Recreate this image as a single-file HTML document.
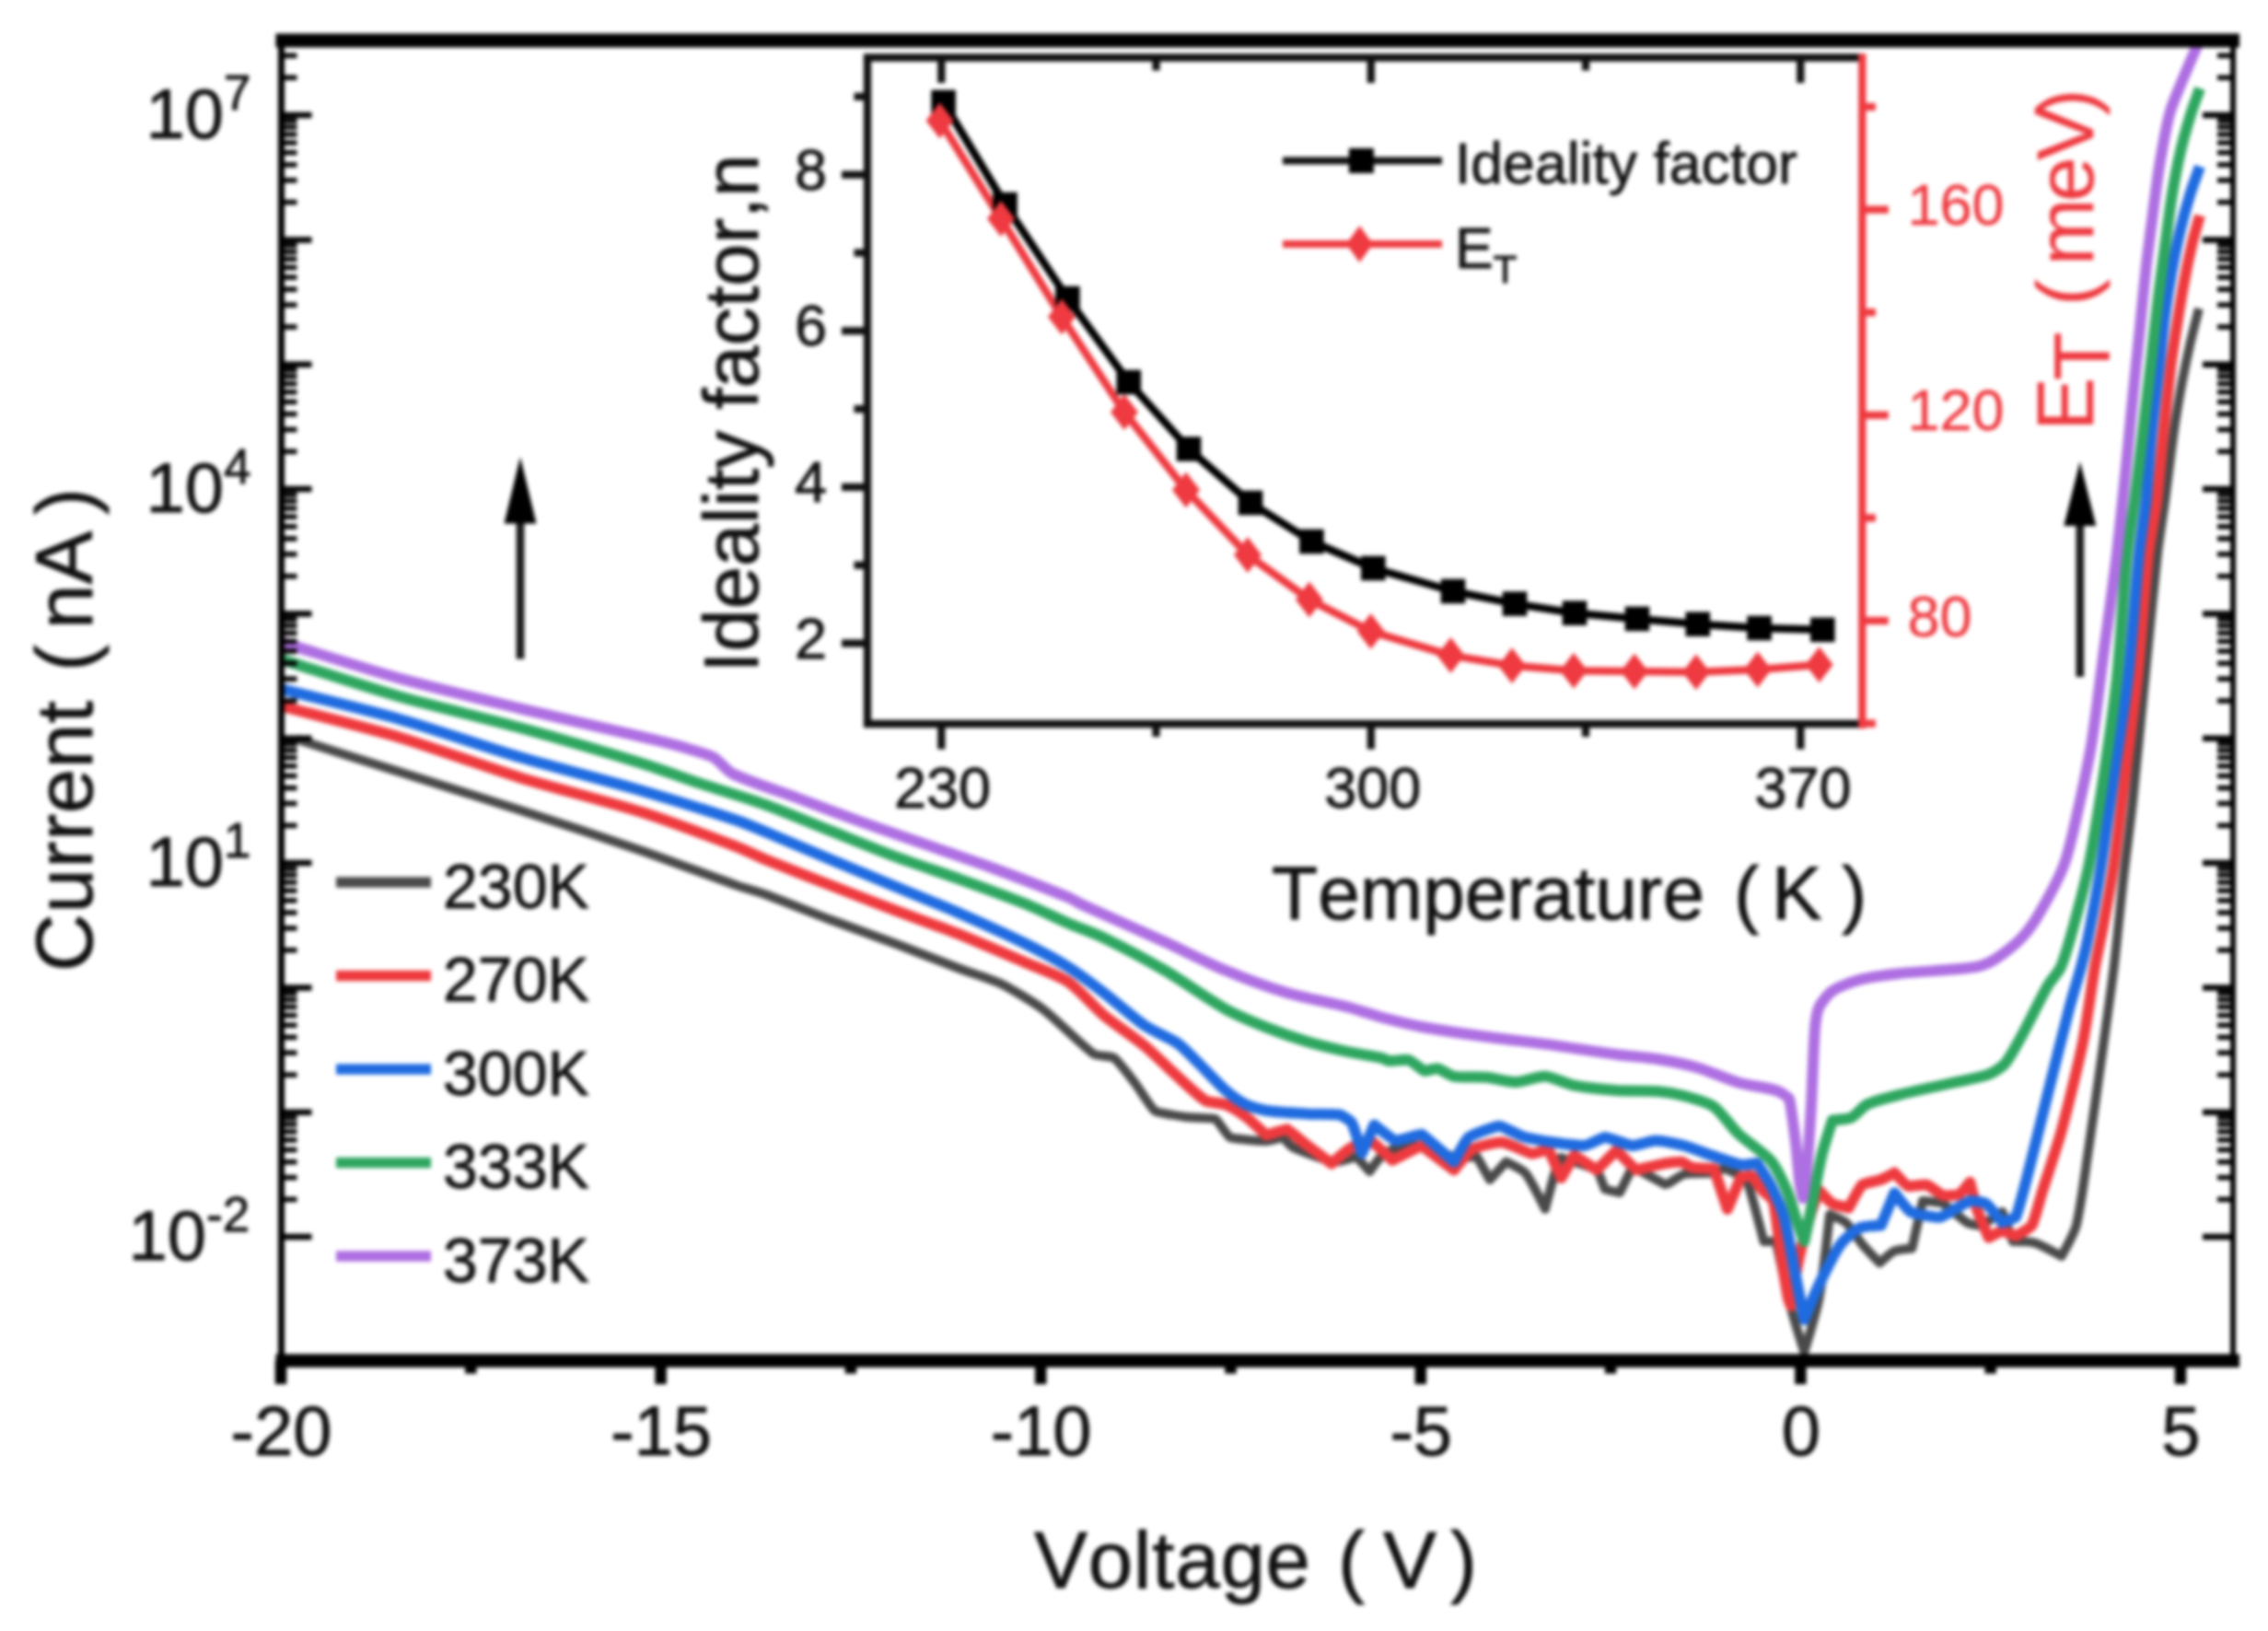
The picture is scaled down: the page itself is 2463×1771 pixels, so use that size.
<!DOCTYPE html>
<html lang="en"><head><meta charset="utf-8"><title>I-V characteristics</title>
<style>html,body{margin:0;padding:0;background:#fff}body{width:2463px;height:1771px;overflow:hidden}text{font-kerning:none;white-space:pre}</style>
</head><body>
<svg width="2463" height="1771" viewBox="0 0 2463 1771" style="display:block;filter:blur(2.2px)">
<rect x="-10" y="-10" width="2483" height="1791" fill="#fff"/>
<defs><clipPath id="cp"><rect x="305.5" y="38.0" width="2119.5" height="1445.5"/></clipPath></defs>
<g clip-path="url(#cp)" fill="none" stroke-linejoin="round" stroke-linecap="butt">
<path d="M322.0,802.5C347.8,810.7 406.7,829.6 432.5,837.8C463.4,847.6 534.2,869.7 565.0,879.7C596.0,889.8 666.6,913.2 697.4,923.9C721.5,932.3 776.0,952.9 800.0,961.4C807.1,963.9 823.6,968.4 830.6,971.0C847.2,977.1 884.7,992.2 901.3,998.5C917.7,1004.7 955.5,1018.3 971.9,1024.5C988.5,1030.8 1026.0,1045.7 1042.6,1052.0C1052.8,1055.9 1076.9,1063.2 1086.7,1068.0C1097.9,1073.5 1122.5,1088.2 1132.5,1095.7C1146.2,1106.0 1176.1,1136.4 1187.6,1144.3C1191.1,1146.7 1207.0,1146.8 1209.7,1148.7C1213.8,1151.5 1226.9,1168.7 1231.8,1175.0C1237.2,1182.0 1250.1,1203.4 1253.9,1206.0C1257.2,1208.3 1279.2,1211.6 1287.0,1212.7C1294.6,1213.7 1317.4,1213.8 1320.0,1215.0C1322.0,1215.9 1333.2,1233.8 1335.5,1234.8C1339.2,1236.4 1366.1,1239.0 1375.3,1239.0C1379.5,1239.0 1392.8,1234.7 1393.0,1234.8C1393.2,1234.8 1401.1,1244.4 1404.0,1245.8C1412.9,1250.1 1440.3,1260.4 1448.6,1261.6C1453.0,1262.3 1473.0,1256.0 1473.0,1256.0C1473.0,1256.0 1487.4,1272.0 1487.4,1272.0C1487.4,1272.0 1496.4,1259.0 1499.7,1256.0C1502.6,1253.4 1511.4,1248.0 1515.0,1247.0C1521.0,1245.4 1537.9,1243.1 1544.0,1244.0C1551.7,1245.1 1570.6,1254.3 1579.0,1256.0C1584.6,1257.1 1603.8,1256.0 1603.8,1256.0C1603.8,1256.0 1618.0,1281.0 1618.0,1281.0C1618.0,1281.0 1635.5,1261.6 1635.5,1261.6C1635.5,1261.6 1653.8,1270.5 1656.7,1274.0C1662.0,1280.3 1678.0,1312.7 1678.0,1312.7C1678.0,1312.7 1685.7,1282.9 1688.4,1274.0C1689.6,1269.9 1695.0,1257.0 1695.0,1257.0C1695.0,1257.0 1731.5,1268.4 1734.3,1270.4C1735.8,1271.5 1742.4,1290.9 1743.0,1291.5C1743.4,1291.9 1759.0,1295.0 1759.0,1295.0C1759.0,1295.0 1773.0,1266.8 1773.0,1266.8C1773.0,1266.8 1804.6,1284.2 1808.4,1286.0C1808.7,1286.2 1811.0,1285.4 1811.7,1285.0C1815.8,1282.8 1825.1,1276.0 1829.0,1275.0C1834.8,1273.6 1851.7,1274.4 1858.5,1273.5C1862.0,1273.0 1871.3,1268.7 1873.0,1269.0C1876.0,1269.6 1895.4,1278.7 1896.5,1280.8C1899.5,1286.4 1915.5,1348.0 1915.5,1348.0C1915.5,1348.0 1928.7,1348.0 1928.7,1348.0C1928.7,1348.0 1941.5,1406.4 1946.0,1424.0C1948.7,1434.4 1959.4,1468.0 1959.4,1468.0C1959.4,1468.0 1972.9,1423.4 1975.5,1409.5C1979.4,1388.5 1987.0,1318.8 1987.0,1318.8C1987.0,1318.8 2001.7,1324.9 2004.7,1327.6C2009.1,1331.6 2017.9,1345.8 2022.3,1351.0C2026.5,1356.0 2041.3,1371.4 2041.3,1371.4C2041.3,1371.4 2053.9,1359.9 2057.4,1358.3C2060.7,1356.8 2076.4,1355.4 2076.4,1355.4C2076.4,1355.4 2088.0,1304.0 2088.0,1304.0C2088.0,1304.0 2106.2,1305.2 2110.0,1307.0C2115.7,1309.8 2130.5,1324.2 2136.4,1327.6C2139.0,1329.1 2149.3,1331.0 2151.0,1330.5C2154.1,1329.5 2174.4,1315.9 2174.4,1315.9C2174.4,1315.9 2186.0,1348.0 2186.0,1348.0C2186.0,1348.0 2204.6,1348.0 2209.5,1349.5C2216.3,1351.6 2238.7,1364.0 2238.7,1364.0C2238.7,1364.0 2252.7,1338.9 2254.8,1330.5C2259.6,1311.7 2265.1,1267.7 2268.0,1248.6C2271.6,1224.7 2279.3,1169.9 2282.6,1146.0C2285.7,1123.6 2293.0,1072.4 2295.7,1050.0C2298.4,1027.9 2303.3,977.1 2305.8,955.0C2308.0,935.4 2313.9,890.6 2316.0,871.0C2319.4,839.5 2326.3,767.5 2329.4,736.0C2332.6,704.5 2339.4,632.5 2343.0,601.0C2344.5,587.8 2349.2,557.8 2351.0,544.7C2352.4,534.4 2355.3,510.9 2356.6,500.6C2357.8,491.1 2360.6,469.4 2362.0,460.0C2363.6,449.7 2367.6,426.2 2369.5,416.0C2371.5,405.7 2376.4,382.2 2378.7,372.0C2380.7,363.3 2385.8,343.6 2388.0,335.0" stroke="#4a4a4a" stroke-width="10"/>
<path d="M306.6,767.0C336.0,774.7 403.4,791.5 432.5,800.2C463.7,809.6 533.9,834.8 565.0,844.4C595.7,853.9 666.8,872.2 697.4,882.0C721.7,889.7 776.2,910.3 800.0,919.4C807.3,922.2 823.4,930.0 830.6,933.0C847.0,939.7 884.8,954.5 901.3,961.0C917.8,967.5 955.4,982.1 971.9,988.4C988.4,994.7 1026.2,1008.3 1042.6,1014.9C1059.2,1021.6 1096.8,1037.9 1113.2,1045.0C1124.2,1049.8 1150.2,1059.4 1160.0,1066.0C1170.2,1072.8 1189.2,1094.3 1198.7,1102.3C1208.6,1110.6 1232.9,1127.2 1242.8,1135.4C1251.0,1142.1 1268.1,1159.2 1276.0,1166.3C1283.6,1173.1 1301.8,1190.7 1309.0,1195.0C1312.7,1197.2 1326.2,1197.5 1331.0,1199.4C1336.5,1201.6 1348.4,1209.1 1353.2,1212.7C1358.8,1216.9 1375.0,1232.5 1375.3,1232.6C1375.5,1232.7 1396.6,1225.8 1397.4,1226.0C1398.4,1226.2 1414.2,1239.6 1419.4,1243.6C1425.5,1248.3 1446.0,1263.5 1446.0,1263.5C1446.0,1263.5 1462.8,1248.5 1468.0,1245.8C1472.4,1243.6 1490.3,1240.2 1491.0,1240.4C1491.8,1240.7 1512.0,1259.8 1512.0,1259.8C1512.0,1259.8 1543.8,1244.0 1543.8,1244.0C1543.8,1244.0 1579.0,1270.4 1579.0,1270.4C1579.0,1270.4 1595.6,1249.9 1600.0,1247.4C1604.7,1244.8 1626.3,1239.9 1632.0,1240.4C1637.9,1240.9 1658.7,1252.0 1663.8,1252.7C1666.5,1253.1 1681.4,1247.4 1681.4,1247.4C1681.4,1247.4 1695.5,1279.0 1695.5,1279.0C1695.5,1279.0 1709.6,1254.5 1709.6,1254.5C1709.6,1254.5 1734.0,1270.4 1734.0,1270.4C1734.0,1270.4 1755.5,1249.0 1755.5,1249.0C1755.5,1249.0 1776.2,1270.3 1776.6,1270.4C1777.0,1270.5 1800.6,1264.6 1808.0,1263.3C1812.2,1262.6 1822.7,1261.3 1826.0,1261.8C1828.5,1262.2 1835.1,1267.0 1838.0,1267.6C1843.1,1268.6 1861.4,1269.0 1861.4,1269.0C1861.4,1269.0 1876.0,1313.0 1876.0,1313.0C1876.0,1313.0 1890.7,1277.9 1890.7,1277.9C1890.7,1277.9 1902.4,1276.4 1902.4,1276.4C1902.4,1276.4 1911.0,1289.0 1914.0,1292.5C1916.5,1295.4 1925.1,1301.6 1925.8,1304.0C1928.3,1313.0 1932.3,1351.3 1934.5,1365.6C1936.1,1375.9 1939.9,1399.3 1941.9,1409.5C1942.3,1411.6 1945.0,1418.0 1945.0,1418.0C1945.0,1418.0 1948.6,1392.7 1950.0,1385.0C1951.4,1377.3 1955.1,1359.6 1957.0,1352.0C1959.1,1343.5 1964.4,1324.3 1967.0,1316.0C1968.7,1310.4 1975.5,1292.5 1975.5,1292.5C1975.5,1292.5 1986.7,1305.1 1990.0,1307.0C1992.9,1308.7 2007.7,1311.5 2007.7,1311.5C2007.7,1311.5 2019.8,1288.8 2022.3,1286.6C2024.1,1285.0 2038.1,1282.5 2042.8,1280.8C2046.4,1279.5 2057.4,1273.5 2057.4,1273.5C2057.4,1273.5 2070.4,1287.4 2072.0,1288.0C2073.6,1288.6 2089.4,1285.8 2092.5,1286.6C2095.6,1287.4 2106.9,1297.1 2110.0,1298.0C2112.7,1298.8 2125.9,1297.7 2127.6,1296.9C2129.3,1296.1 2139.3,1283.7 2139.3,1283.7C2139.3,1283.7 2145.5,1308.5 2148.0,1315.9C2150.3,1322.6 2159.7,1343.7 2159.7,1343.7C2159.7,1343.7 2173.0,1336.5 2174.4,1336.4C2175.8,1336.3 2188.4,1342.3 2189.0,1342.2C2189.7,1342.1 2205.1,1333.1 2206.6,1330.5C2209.5,1325.6 2215.5,1301.4 2218.3,1292.5C2223.0,1277.4 2234.6,1243.2 2238.7,1228.0C2244.8,1205.7 2257.4,1154.3 2262.0,1131.6C2265.9,1112.7 2271.7,1069.0 2275.0,1050.0C2276.8,1039.7 2282.0,1016.3 2283.9,1006.0C2286.8,990.3 2293.4,954.3 2295.7,938.5C2299.1,914.9 2305.5,860.7 2308.5,837.0C2311.4,813.4 2318.5,759.6 2321.0,736.0C2324.3,704.5 2329.5,632.4 2333.0,601.0C2334.5,587.8 2340.3,557.9 2342.0,544.7C2344.1,527.6 2347.5,488.2 2349.3,471.0C2351.1,453.9 2355.3,414.7 2357.4,397.6C2358.7,387.3 2362.4,363.8 2364.0,353.5C2365.6,343.2 2369.4,319.7 2371.3,309.4C2373.2,299.0 2378.1,275.3 2380.5,265.0C2382.2,257.7 2387.0,241.2 2389.0,234.0" stroke="#ee3a3e" stroke-width="12"/>
<path d="M306.6,748.4C336.0,755.9 403.4,772.1 432.5,780.4C463.7,789.3 533.9,813.1 565.0,822.3C595.7,831.4 666.6,849.7 697.4,858.7C721.5,865.7 776.2,882.8 800.0,890.7C807.3,893.1 823.5,900.0 830.6,903.0C847.1,909.9 884.8,926.0 901.3,933.0C917.8,939.9 955.4,955.6 971.9,962.5C988.4,969.4 1026.2,984.8 1042.6,992.0C1059.2,999.3 1096.9,1016.5 1113.2,1024.5C1124.3,1030.0 1149.5,1043.4 1160.0,1050.0C1169.4,1055.9 1189.9,1071.2 1198.7,1078.0C1209.2,1086.0 1231.9,1105.9 1242.8,1113.4C1250.0,1118.4 1268.5,1126.5 1276.0,1131.0C1278.8,1132.7 1284.6,1137.5 1287.0,1139.8C1292.3,1144.8 1303.9,1156.8 1309.0,1162.0C1314.1,1167.1 1325.5,1179.3 1331.0,1184.0C1335.8,1188.1 1347.6,1196.6 1353.2,1199.4C1358.0,1201.8 1370.0,1205.2 1375.3,1206.0C1385.5,1207.5 1409.1,1208.8 1419.4,1209.4C1427.6,1209.9 1448.4,1209.2 1454.7,1210.5C1457.5,1211.1 1466.8,1217.2 1468.0,1219.3C1470.6,1223.8 1479.0,1252.4 1479.0,1252.4C1479.0,1252.4 1492.3,1221.5 1492.3,1221.5C1492.3,1221.5 1513.5,1238.2 1515.6,1238.6C1517.7,1239.0 1542.6,1231.2 1543.8,1231.6C1545.7,1232.3 1579.0,1261.6 1579.0,1261.6C1579.0,1261.6 1591.5,1237.8 1595.0,1235.0C1599.1,1231.8 1624.4,1222.7 1628.5,1222.7C1632.1,1222.7 1649.7,1233.4 1656.7,1235.0C1671.2,1238.4 1707.7,1244.0 1720.0,1244.0C1724.7,1244.0 1739.3,1235.0 1743.0,1235.0C1747.7,1235.0 1766.9,1243.6 1773.0,1244.0C1777.9,1244.3 1792.2,1238.6 1797.8,1238.6C1804.8,1238.6 1821.9,1242.1 1829.0,1244.0C1836.1,1245.9 1851.6,1252.2 1858.5,1254.5C1866.0,1257.0 1883.5,1263.5 1890.7,1264.7C1894.4,1265.3 1908.0,1263.0 1908.0,1263.0C1908.0,1263.0 1919.9,1280.8 1922.8,1286.6C1926.8,1294.5 1935.1,1313.2 1937.5,1321.7C1941.2,1335.1 1946.3,1366.4 1949.0,1380.0C1951.4,1392.3 1959.4,1432.9 1959.4,1432.9C1959.4,1432.9 1971.3,1403.6 1975.5,1394.9C1980.5,1384.4 1992.4,1360.1 1998.9,1351.0C2002.4,1346.1 2015.2,1335.4 2019.4,1333.4C2023.1,1331.7 2042.8,1330.5 2042.8,1330.5C2042.8,1330.5 2057.4,1295.4 2057.4,1295.4C2057.4,1295.4 2071.6,1314.1 2075.0,1315.9C2079.1,1318.1 2102.4,1322.6 2107.0,1321.7C2112.2,1320.7 2134.1,1305.5 2139.3,1304.0C2141.8,1303.3 2154.7,1305.6 2156.8,1307.0C2159.9,1309.1 2174.4,1327.6 2174.4,1327.6C2174.4,1327.6 2188.5,1322.5 2189.0,1321.7C2190.2,1319.5 2198.2,1290.4 2200.7,1280.8C2206.4,1259.0 2218.5,1208.9 2224.0,1187.0C2229.5,1165.2 2241.8,1115.3 2247.5,1093.6C2250.2,1083.4 2257.3,1060.2 2260.0,1050.0C2262.3,1041.4 2267.0,1021.5 2268.7,1012.7C2272.1,995.4 2279.3,955.9 2282.0,938.5C2285.7,914.9 2293.1,860.7 2296.5,837.0C2299.9,813.4 2308.3,759.7 2311.0,736.0C2314.5,704.6 2319.8,632.5 2323.0,601.0C2324.3,587.8 2329.1,557.9 2330.5,544.7C2332.3,527.5 2334.8,488.2 2336.5,471.0C2338.2,453.8 2343.0,414.7 2344.9,397.6C2346.4,384.7 2349.3,355.3 2351.0,342.5C2352.5,331.3 2356.5,305.8 2358.5,294.7C2360.4,284.4 2365.2,260.8 2367.6,250.6C2369.9,241.0 2375.8,219.4 2378.7,210.0C2380.8,203.1 2386.6,187.5 2389.0,180.7" stroke="#1f6be0" stroke-width="12"/>
<path d="M306.6,716.4C340.2,727.0 398.7,746.3 432.5,756.0C467.6,766.0 529.8,780.6 565.0,790.3C600.5,800.1 662.3,818.1 697.4,829.0C714.3,834.2 743.3,845.0 760.0,850.6C778.8,856.9 812.0,866.8 830.6,873.6C849.7,880.5 882.4,894.4 901.3,901.9C920.1,909.4 952.9,922.9 971.9,930.0C990.6,937.0 1023.8,948.0 1042.6,954.8C1061.5,961.7 1094.6,973.7 1113.2,981.3C1125.9,986.5 1147.4,997.0 1160.0,1002.5C1170.2,1006.9 1188.7,1013.5 1198.7,1018.4C1216.7,1027.2 1247.7,1043.7 1265.0,1053.8C1283.0,1064.3 1312.8,1085.5 1331.0,1095.7C1342.3,1102.0 1363.3,1110.8 1375.3,1115.6C1386.9,1120.2 1407.5,1127.4 1419.4,1131.0C1431.0,1134.5 1451.7,1139.4 1463.6,1142.0C1473.2,1144.1 1490.4,1146.6 1500.0,1148.7C1502.4,1149.2 1506.3,1151.8 1508.6,1152.0C1513.8,1152.4 1526.1,1150.0 1529.7,1151.0C1533.3,1152.0 1544.4,1162.0 1547.0,1162.8C1548.8,1163.3 1558.8,1159.8 1561.5,1160.3C1565.0,1161.0 1574.3,1168.0 1579.0,1168.8C1587.4,1170.3 1604.7,1168.9 1614.0,1169.8C1622.6,1170.6 1637.6,1175.1 1646.0,1175.0C1654.5,1174.9 1670.7,1168.4 1678.0,1168.8C1685.4,1169.2 1700.9,1177.0 1709.6,1178.7C1721.7,1181.1 1743.2,1183.1 1755.5,1184.0C1767.3,1184.8 1788.2,1184.0 1800.0,1185.0C1807.8,1185.6 1821.4,1187.9 1829.0,1190.0C1837.9,1192.4 1855.0,1197.3 1861.4,1201.8C1868.7,1206.9 1880.1,1223.8 1887.7,1231.0C1896.5,1239.4 1915.3,1251.2 1922.8,1260.0C1928.9,1267.1 1936.5,1283.5 1940.4,1292.5C1944.3,1301.5 1948.8,1318.3 1952.0,1327.6C1953.9,1333.1 1959.4,1348.0 1959.4,1348.0C1959.4,1348.0 1965.8,1317.9 1968.0,1307.0C1970.8,1293.0 1975.0,1268.4 1978.4,1254.5C1980.9,1244.2 1990.0,1216.4 1990.0,1216.4C1990.0,1216.4 2006.7,1215.3 2010.6,1213.5C2014.9,1211.5 2022.9,1201.4 2028.0,1199.0C2036.2,1195.1 2053.6,1191.0 2063.0,1188.6C2078.6,1184.7 2106.1,1179.0 2121.7,1175.5C2131.8,1173.2 2150.2,1170.2 2159.7,1166.7C2164.8,1164.8 2174.0,1158.8 2177.3,1155.0C2182.6,1148.8 2190.5,1133.8 2194.9,1125.8C2203.0,1111.1 2215.7,1084.6 2224.0,1070.0C2227.2,1064.3 2235.4,1056.0 2238.0,1050.0C2242.9,1038.7 2248.5,1017.9 2251.8,1006.0C2256.7,988.1 2265.1,956.7 2268.7,938.5C2274.1,911.6 2281.4,864.1 2285.5,837.0C2289.5,810.1 2296.2,763.0 2299.0,736.0C2302.7,700.1 2306.4,636.9 2310.0,601.0C2311.5,585.9 2316.0,559.7 2318.0,544.7C2320.6,525.1 2324.7,490.7 2327.0,471.0C2329.3,451.4 2333.3,417.2 2335.5,397.6C2337.7,378.0 2341.4,343.6 2343.8,324.0C2345.6,309.3 2349.0,283.7 2351.0,269.0C2353.0,254.3 2356.1,228.5 2358.5,213.8C2360.6,201.0 2364.7,178.6 2367.6,166.0C2370.1,155.1 2375.4,136.3 2378.7,125.6C2381.1,117.6 2386.3,103.9 2389.0,96.0" stroke="#2ea660" stroke-width="12"/>
<path d="M306.6,697.6C340.2,707.9 398.7,726.8 432.5,736.2C467.6,745.9 529.6,760.7 565.0,769.3C600.2,777.8 662.1,791.8 697.4,800.2C709.2,803.0 729.8,808.0 741.5,811.3C750.4,813.9 766.8,818.2 774.6,822.3C780.7,825.5 788.9,836.9 795.3,840.0C813.0,848.6 847.1,859.4 866.0,866.5C884.8,873.6 917.7,886.1 936.6,893.0C955.4,899.8 988.4,911.1 1007.2,917.7C1026.1,924.3 1059.2,935.6 1077.9,942.5C1099.9,950.7 1138.3,965.4 1160.0,974.3C1164.6,976.2 1172.1,980.9 1176.6,983.0C1200.1,993.8 1241.5,1012.0 1265.0,1022.8C1282.7,1030.9 1313.1,1046.3 1331.0,1053.8C1348.4,1061.1 1379.3,1072.6 1397.4,1078.0C1414.8,1083.2 1446.0,1089.0 1463.6,1093.5C1473.4,1096.0 1490.2,1101.9 1500.0,1104.5C1511.7,1107.6 1532.1,1112.8 1544.0,1115.0C1562.6,1118.5 1595.3,1123.1 1614.0,1125.7C1632.9,1128.3 1666.1,1132.0 1685.0,1134.6C1703.8,1137.2 1736.7,1142.5 1755.5,1145.0C1767.3,1146.6 1788.2,1148.1 1800.0,1150.0C1811.8,1151.9 1832.5,1156.1 1844.0,1159.4C1855.9,1162.9 1875.8,1172.0 1887.7,1175.5C1898.4,1178.6 1918.4,1180.7 1928.7,1184.0C1932.9,1185.3 1942.5,1191.6 1943.0,1193.0C1944.5,1197.0 1948.4,1227.4 1950.0,1240.0C1951.5,1252.0 1952.9,1273.0 1954.5,1285.0C1955.1,1289.3 1958.0,1301.0 1958.0,1301.0C1958.0,1301.0 1961.3,1278.3 1962.0,1270.0C1963.6,1252.6 1965.7,1222.1 1966.7,1204.7C1968.1,1181.3 1969.2,1140.3 1971.0,1117.0C1971.5,1110.7 1973.3,1098.4 1975.5,1093.6C1977.6,1089.0 1985.7,1078.9 1990.0,1076.0C1995.9,1072.0 2010.9,1066.1 2019.0,1064.0C2030.5,1061.0 2051.2,1058.3 2063.0,1057.0C2078.6,1055.3 2106.1,1054.0 2121.7,1052.6C2129.3,1051.9 2142.6,1050.9 2150.0,1049.0C2155.0,1047.7 2163.2,1043.8 2167.5,1041.0C2175.2,1035.9 2188.1,1026.0 2194.5,1019.4C2200.6,1013.1 2209.6,1000.6 2214.0,993.0C2222.2,978.9 2236.1,953.8 2241.7,938.5C2248.1,921.1 2254.5,889.1 2258.6,871.0C2262.6,853.1 2269.1,821.7 2272.0,803.6C2276.3,776.6 2281.9,729.1 2285.5,702.0C2287.2,689.5 2290.3,667.5 2292.0,655.0C2293.9,640.6 2297.4,615.4 2299.0,601.0C2301.8,576.2 2306.3,532.8 2308.8,508.0C2310.8,488.3 2314.0,453.7 2316.0,434.0C2317.9,414.5 2321.5,380.5 2323.5,361.0C2325.5,341.3 2328.8,306.7 2331.0,287.0C2332.7,272.3 2336.1,246.7 2338.0,232.0C2339.9,217.3 2343.1,191.6 2345.6,177.0C2348.1,162.3 2352.6,136.4 2356.6,122.0C2359.4,111.8 2367.0,94.8 2371.0,85.0C2375.4,74.3 2383.5,55.7 2388.0,45.0" stroke="#ae6fe2" stroke-width="12"/>
</g>
<g stroke="#000" fill="none">
<line x1="299.5" y1="44.0" x2="2432.0" y2="44.0" stroke-width="15"/>
<line x1="299.5" y1="1477.5" x2="2432.0" y2="1477.5" stroke-width="14.5"/>
<line x1="305.5" y1="44.0" x2="305.5" y2="1477.5" stroke-width="7"/>
<line x1="2425.0" y1="44.0" x2="2425.0" y2="1477.5" stroke-width="6"/>
<line x1="305.0" y1="1477.5" x2="305.0" y2="1503.0" stroke-width="12.5"/>
<line x1="511.3" y1="1477.5" x2="511.3" y2="1491.5" stroke-width="12.5"/>
<line x1="717.6" y1="1477.5" x2="717.6" y2="1503.0" stroke-width="12.5"/>
<line x1="923.9" y1="1477.5" x2="923.9" y2="1491.5" stroke-width="12.5"/>
<line x1="1130.2" y1="1477.5" x2="1130.2" y2="1503.0" stroke-width="12.5"/>
<line x1="1336.5" y1="1477.5" x2="1336.5" y2="1491.5" stroke-width="12.5"/>
<line x1="1542.8" y1="1477.5" x2="1542.8" y2="1503.0" stroke-width="12.5"/>
<line x1="1749.1" y1="1477.5" x2="1749.1" y2="1491.5" stroke-width="12.5"/>
<line x1="1955.4" y1="1477.5" x2="1955.4" y2="1503.0" stroke-width="12.5"/>
<line x1="2161.7" y1="1477.5" x2="2161.7" y2="1491.5" stroke-width="12.5"/>
<line x1="2368.0" y1="1477.5" x2="2368.0" y2="1503.0" stroke-width="12.5"/>
<line x1="305.5" y1="1343.1" x2="338.5" y2="1343.1" stroke-width="6.5"/>
<line x1="2425.0" y1="1343.1" x2="2392.0" y2="1343.1" stroke-width="6.5"/>
<line x1="305.5" y1="1207.8" x2="338.5" y2="1207.8" stroke-width="6.5"/>
<line x1="2425.0" y1="1207.8" x2="2392.0" y2="1207.8" stroke-width="6.5"/>
<line x1="305.5" y1="1072.4" x2="338.5" y2="1072.4" stroke-width="6.5"/>
<line x1="2425.0" y1="1072.4" x2="2392.0" y2="1072.4" stroke-width="6.5"/>
<line x1="305.5" y1="937.1" x2="338.5" y2="937.1" stroke-width="6.5"/>
<line x1="2425.0" y1="937.1" x2="2392.0" y2="937.1" stroke-width="6.5"/>
<line x1="305.5" y1="801.8" x2="338.5" y2="801.8" stroke-width="6.5"/>
<line x1="2425.0" y1="801.8" x2="2392.0" y2="801.8" stroke-width="6.5"/>
<line x1="305.5" y1="666.4" x2="338.5" y2="666.4" stroke-width="6.5"/>
<line x1="2425.0" y1="666.4" x2="2392.0" y2="666.4" stroke-width="6.5"/>
<line x1="305.5" y1="531.0" x2="338.5" y2="531.0" stroke-width="6.5"/>
<line x1="2425.0" y1="531.0" x2="2392.0" y2="531.0" stroke-width="6.5"/>
<line x1="305.5" y1="395.7" x2="338.5" y2="395.7" stroke-width="6.5"/>
<line x1="2425.0" y1="395.7" x2="2392.0" y2="395.7" stroke-width="6.5"/>
<line x1="305.5" y1="260.4" x2="338.5" y2="260.4" stroke-width="6.5"/>
<line x1="2425.0" y1="260.4" x2="2392.0" y2="260.4" stroke-width="6.5"/>
<line x1="305.5" y1="125.0" x2="338.5" y2="125.0" stroke-width="6.5"/>
<line x1="2425.0" y1="125.0" x2="2392.0" y2="125.0" stroke-width="6.5"/>
<line x1="305.5" y1="1302.4" x2="322.5" y2="1302.4" stroke-width="5.5"/>
<line x1="2425.0" y1="1302.4" x2="2408.0" y2="1302.4" stroke-width="5.5"/>
<line x1="305.5" y1="1278.6" x2="322.5" y2="1278.6" stroke-width="5.5"/>
<line x1="2425.0" y1="1278.6" x2="2408.0" y2="1278.6" stroke-width="5.5"/>
<line x1="305.5" y1="1261.7" x2="322.5" y2="1261.7" stroke-width="5.5"/>
<line x1="2425.0" y1="1261.7" x2="2408.0" y2="1261.7" stroke-width="5.5"/>
<line x1="305.5" y1="1248.5" x2="322.5" y2="1248.5" stroke-width="5.5"/>
<line x1="2425.0" y1="1248.5" x2="2408.0" y2="1248.5" stroke-width="5.5"/>
<line x1="305.5" y1="1237.8" x2="322.5" y2="1237.8" stroke-width="5.5"/>
<line x1="2425.0" y1="1237.8" x2="2408.0" y2="1237.8" stroke-width="5.5"/>
<line x1="305.5" y1="1228.8" x2="322.5" y2="1228.8" stroke-width="5.5"/>
<line x1="2425.0" y1="1228.8" x2="2408.0" y2="1228.8" stroke-width="5.5"/>
<line x1="305.5" y1="1220.9" x2="322.5" y2="1220.9" stroke-width="5.5"/>
<line x1="2425.0" y1="1220.9" x2="2408.0" y2="1220.9" stroke-width="5.5"/>
<line x1="305.5" y1="1214.0" x2="322.5" y2="1214.0" stroke-width="5.5"/>
<line x1="2425.0" y1="1214.0" x2="2408.0" y2="1214.0" stroke-width="5.5"/>
<line x1="305.5" y1="1167.1" x2="322.5" y2="1167.1" stroke-width="5.5"/>
<line x1="2425.0" y1="1167.1" x2="2408.0" y2="1167.1" stroke-width="5.5"/>
<line x1="305.5" y1="1143.2" x2="322.5" y2="1143.2" stroke-width="5.5"/>
<line x1="2425.0" y1="1143.2" x2="2408.0" y2="1143.2" stroke-width="5.5"/>
<line x1="305.5" y1="1126.3" x2="322.5" y2="1126.3" stroke-width="5.5"/>
<line x1="2425.0" y1="1126.3" x2="2408.0" y2="1126.3" stroke-width="5.5"/>
<line x1="305.5" y1="1113.2" x2="322.5" y2="1113.2" stroke-width="5.5"/>
<line x1="2425.0" y1="1113.2" x2="2408.0" y2="1113.2" stroke-width="5.5"/>
<line x1="305.5" y1="1102.5" x2="322.5" y2="1102.5" stroke-width="5.5"/>
<line x1="2425.0" y1="1102.5" x2="2408.0" y2="1102.5" stroke-width="5.5"/>
<line x1="305.5" y1="1093.4" x2="322.5" y2="1093.4" stroke-width="5.5"/>
<line x1="2425.0" y1="1093.4" x2="2408.0" y2="1093.4" stroke-width="5.5"/>
<line x1="305.5" y1="1085.6" x2="322.5" y2="1085.6" stroke-width="5.5"/>
<line x1="2425.0" y1="1085.6" x2="2408.0" y2="1085.6" stroke-width="5.5"/>
<line x1="305.5" y1="1078.6" x2="322.5" y2="1078.6" stroke-width="5.5"/>
<line x1="2425.0" y1="1078.6" x2="2408.0" y2="1078.6" stroke-width="5.5"/>
<line x1="305.5" y1="1031.7" x2="322.5" y2="1031.7" stroke-width="5.5"/>
<line x1="2425.0" y1="1031.7" x2="2408.0" y2="1031.7" stroke-width="5.5"/>
<line x1="305.5" y1="1007.9" x2="322.5" y2="1007.9" stroke-width="5.5"/>
<line x1="2425.0" y1="1007.9" x2="2408.0" y2="1007.9" stroke-width="5.5"/>
<line x1="305.5" y1="991.0" x2="322.5" y2="991.0" stroke-width="5.5"/>
<line x1="2425.0" y1="991.0" x2="2408.0" y2="991.0" stroke-width="5.5"/>
<line x1="305.5" y1="977.8" x2="322.5" y2="977.8" stroke-width="5.5"/>
<line x1="2425.0" y1="977.8" x2="2408.0" y2="977.8" stroke-width="5.5"/>
<line x1="305.5" y1="967.1" x2="322.5" y2="967.1" stroke-width="5.5"/>
<line x1="2425.0" y1="967.1" x2="2408.0" y2="967.1" stroke-width="5.5"/>
<line x1="305.5" y1="958.1" x2="322.5" y2="958.1" stroke-width="5.5"/>
<line x1="2425.0" y1="958.1" x2="2408.0" y2="958.1" stroke-width="5.5"/>
<line x1="305.5" y1="950.2" x2="322.5" y2="950.2" stroke-width="5.5"/>
<line x1="2425.0" y1="950.2" x2="2408.0" y2="950.2" stroke-width="5.5"/>
<line x1="305.5" y1="943.3" x2="322.5" y2="943.3" stroke-width="5.5"/>
<line x1="2425.0" y1="943.3" x2="2408.0" y2="943.3" stroke-width="5.5"/>
<line x1="305.5" y1="896.4" x2="322.5" y2="896.4" stroke-width="5.5"/>
<line x1="2425.0" y1="896.4" x2="2408.0" y2="896.4" stroke-width="5.5"/>
<line x1="305.5" y1="872.5" x2="322.5" y2="872.5" stroke-width="5.5"/>
<line x1="2425.0" y1="872.5" x2="2408.0" y2="872.5" stroke-width="5.5"/>
<line x1="305.5" y1="855.6" x2="322.5" y2="855.6" stroke-width="5.5"/>
<line x1="2425.0" y1="855.6" x2="2408.0" y2="855.6" stroke-width="5.5"/>
<line x1="305.5" y1="842.5" x2="322.5" y2="842.5" stroke-width="5.5"/>
<line x1="2425.0" y1="842.5" x2="2408.0" y2="842.5" stroke-width="5.5"/>
<line x1="305.5" y1="831.8" x2="322.5" y2="831.8" stroke-width="5.5"/>
<line x1="2425.0" y1="831.8" x2="2408.0" y2="831.8" stroke-width="5.5"/>
<line x1="305.5" y1="822.7" x2="322.5" y2="822.7" stroke-width="5.5"/>
<line x1="2425.0" y1="822.7" x2="2408.0" y2="822.7" stroke-width="5.5"/>
<line x1="305.5" y1="814.9" x2="322.5" y2="814.9" stroke-width="5.5"/>
<line x1="2425.0" y1="814.9" x2="2408.0" y2="814.9" stroke-width="5.5"/>
<line x1="305.5" y1="807.9" x2="322.5" y2="807.9" stroke-width="5.5"/>
<line x1="2425.0" y1="807.9" x2="2408.0" y2="807.9" stroke-width="5.5"/>
<line x1="305.5" y1="761.0" x2="322.5" y2="761.0" stroke-width="5.5"/>
<line x1="2425.0" y1="761.0" x2="2408.0" y2="761.0" stroke-width="5.5"/>
<line x1="305.5" y1="737.2" x2="322.5" y2="737.2" stroke-width="5.5"/>
<line x1="2425.0" y1="737.2" x2="2408.0" y2="737.2" stroke-width="5.5"/>
<line x1="305.5" y1="720.3" x2="322.5" y2="720.3" stroke-width="5.5"/>
<line x1="2425.0" y1="720.3" x2="2408.0" y2="720.3" stroke-width="5.5"/>
<line x1="305.5" y1="707.1" x2="322.5" y2="707.1" stroke-width="5.5"/>
<line x1="2425.0" y1="707.1" x2="2408.0" y2="707.1" stroke-width="5.5"/>
<line x1="305.5" y1="696.4" x2="322.5" y2="696.4" stroke-width="5.5"/>
<line x1="2425.0" y1="696.4" x2="2408.0" y2="696.4" stroke-width="5.5"/>
<line x1="305.5" y1="687.4" x2="322.5" y2="687.4" stroke-width="5.5"/>
<line x1="2425.0" y1="687.4" x2="2408.0" y2="687.4" stroke-width="5.5"/>
<line x1="305.5" y1="679.5" x2="322.5" y2="679.5" stroke-width="5.5"/>
<line x1="2425.0" y1="679.5" x2="2408.0" y2="679.5" stroke-width="5.5"/>
<line x1="305.5" y1="672.6" x2="322.5" y2="672.6" stroke-width="5.5"/>
<line x1="2425.0" y1="672.6" x2="2408.0" y2="672.6" stroke-width="5.5"/>
<line x1="305.5" y1="625.7" x2="322.5" y2="625.7" stroke-width="5.5"/>
<line x1="2425.0" y1="625.7" x2="2408.0" y2="625.7" stroke-width="5.5"/>
<line x1="305.5" y1="601.8" x2="322.5" y2="601.8" stroke-width="5.5"/>
<line x1="2425.0" y1="601.8" x2="2408.0" y2="601.8" stroke-width="5.5"/>
<line x1="305.5" y1="584.9" x2="322.5" y2="584.9" stroke-width="5.5"/>
<line x1="2425.0" y1="584.9" x2="2408.0" y2="584.9" stroke-width="5.5"/>
<line x1="305.5" y1="571.8" x2="322.5" y2="571.8" stroke-width="5.5"/>
<line x1="2425.0" y1="571.8" x2="2408.0" y2="571.8" stroke-width="5.5"/>
<line x1="305.5" y1="561.1" x2="322.5" y2="561.1" stroke-width="5.5"/>
<line x1="2425.0" y1="561.1" x2="2408.0" y2="561.1" stroke-width="5.5"/>
<line x1="305.5" y1="552.0" x2="322.5" y2="552.0" stroke-width="5.5"/>
<line x1="2425.0" y1="552.0" x2="2408.0" y2="552.0" stroke-width="5.5"/>
<line x1="305.5" y1="544.2" x2="322.5" y2="544.2" stroke-width="5.5"/>
<line x1="2425.0" y1="544.2" x2="2408.0" y2="544.2" stroke-width="5.5"/>
<line x1="305.5" y1="537.2" x2="322.5" y2="537.2" stroke-width="5.5"/>
<line x1="2425.0" y1="537.2" x2="2408.0" y2="537.2" stroke-width="5.5"/>
<line x1="305.5" y1="490.3" x2="322.5" y2="490.3" stroke-width="5.5"/>
<line x1="2425.0" y1="490.3" x2="2408.0" y2="490.3" stroke-width="5.5"/>
<line x1="305.5" y1="466.5" x2="322.5" y2="466.5" stroke-width="5.5"/>
<line x1="2425.0" y1="466.5" x2="2408.0" y2="466.5" stroke-width="5.5"/>
<line x1="305.5" y1="449.6" x2="322.5" y2="449.6" stroke-width="5.5"/>
<line x1="2425.0" y1="449.6" x2="2408.0" y2="449.6" stroke-width="5.5"/>
<line x1="305.5" y1="436.4" x2="322.5" y2="436.4" stroke-width="5.5"/>
<line x1="2425.0" y1="436.4" x2="2408.0" y2="436.4" stroke-width="5.5"/>
<line x1="305.5" y1="425.7" x2="322.5" y2="425.7" stroke-width="5.5"/>
<line x1="2425.0" y1="425.7" x2="2408.0" y2="425.7" stroke-width="5.5"/>
<line x1="305.5" y1="416.7" x2="322.5" y2="416.7" stroke-width="5.5"/>
<line x1="2425.0" y1="416.7" x2="2408.0" y2="416.7" stroke-width="5.5"/>
<line x1="305.5" y1="408.8" x2="322.5" y2="408.8" stroke-width="5.5"/>
<line x1="2425.0" y1="408.8" x2="2408.0" y2="408.8" stroke-width="5.5"/>
<line x1="305.5" y1="401.9" x2="322.5" y2="401.9" stroke-width="5.5"/>
<line x1="2425.0" y1="401.9" x2="2408.0" y2="401.9" stroke-width="5.5"/>
<line x1="305.5" y1="355.0" x2="322.5" y2="355.0" stroke-width="5.5"/>
<line x1="2425.0" y1="355.0" x2="2408.0" y2="355.0" stroke-width="5.5"/>
<line x1="305.5" y1="331.1" x2="322.5" y2="331.1" stroke-width="5.5"/>
<line x1="2425.0" y1="331.1" x2="2408.0" y2="331.1" stroke-width="5.5"/>
<line x1="305.5" y1="314.2" x2="322.5" y2="314.2" stroke-width="5.5"/>
<line x1="2425.0" y1="314.2" x2="2408.0" y2="314.2" stroke-width="5.5"/>
<line x1="305.5" y1="301.1" x2="322.5" y2="301.1" stroke-width="5.5"/>
<line x1="2425.0" y1="301.1" x2="2408.0" y2="301.1" stroke-width="5.5"/>
<line x1="305.5" y1="290.4" x2="322.5" y2="290.4" stroke-width="5.5"/>
<line x1="2425.0" y1="290.4" x2="2408.0" y2="290.4" stroke-width="5.5"/>
<line x1="305.5" y1="281.3" x2="322.5" y2="281.3" stroke-width="5.5"/>
<line x1="2425.0" y1="281.3" x2="2408.0" y2="281.3" stroke-width="5.5"/>
<line x1="305.5" y1="273.5" x2="322.5" y2="273.5" stroke-width="5.5"/>
<line x1="2425.0" y1="273.5" x2="2408.0" y2="273.5" stroke-width="5.5"/>
<line x1="305.5" y1="266.5" x2="322.5" y2="266.5" stroke-width="5.5"/>
<line x1="2425.0" y1="266.5" x2="2408.0" y2="266.5" stroke-width="5.5"/>
<line x1="305.5" y1="219.6" x2="322.5" y2="219.6" stroke-width="5.5"/>
<line x1="2425.0" y1="219.6" x2="2408.0" y2="219.6" stroke-width="5.5"/>
<line x1="305.5" y1="195.8" x2="322.5" y2="195.8" stroke-width="5.5"/>
<line x1="2425.0" y1="195.8" x2="2408.0" y2="195.8" stroke-width="5.5"/>
<line x1="305.5" y1="178.9" x2="322.5" y2="178.9" stroke-width="5.5"/>
<line x1="2425.0" y1="178.9" x2="2408.0" y2="178.9" stroke-width="5.5"/>
<line x1="305.5" y1="165.7" x2="322.5" y2="165.7" stroke-width="5.5"/>
<line x1="2425.0" y1="165.7" x2="2408.0" y2="165.7" stroke-width="5.5"/>
<line x1="305.5" y1="155.0" x2="322.5" y2="155.0" stroke-width="5.5"/>
<line x1="2425.0" y1="155.0" x2="2408.0" y2="155.0" stroke-width="5.5"/>
<line x1="305.5" y1="146.0" x2="322.5" y2="146.0" stroke-width="5.5"/>
<line x1="2425.0" y1="146.0" x2="2408.0" y2="146.0" stroke-width="5.5"/>
<line x1="305.5" y1="138.1" x2="322.5" y2="138.1" stroke-width="5.5"/>
<line x1="2425.0" y1="138.1" x2="2408.0" y2="138.1" stroke-width="5.5"/>
<line x1="305.5" y1="131.2" x2="322.5" y2="131.2" stroke-width="5.5"/>
<line x1="2425.0" y1="131.2" x2="2408.0" y2="131.2" stroke-width="5.5"/>
<line x1="305.5" y1="84.3" x2="322.5" y2="84.3" stroke-width="5.5"/>
<line x1="2425.0" y1="84.3" x2="2408.0" y2="84.3" stroke-width="5.5"/>
<line x1="305.5" y1="60.4" x2="322.5" y2="60.4" stroke-width="5.5"/>
<line x1="2425.0" y1="60.4" x2="2408.0" y2="60.4" stroke-width="5.5"/>
</g>
<g font-family='"Liberation Sans", Arial, Helvetica, sans-serif' fill="#111" stroke="#111" stroke-width="0.9">
<text x="305.5" y="1580" font-size="76" text-anchor="middle">-20</text>
<text x="718.1" y="1580" font-size="76" text-anchor="middle">-15</text>
<text x="1130.7" y="1580" font-size="76" text-anchor="middle">-10</text>
<text x="1543.3" y="1580" font-size="76" text-anchor="middle">-5</text>
<text x="1955.9" y="1580" font-size="76" text-anchor="middle">0</text>
<text x="2368.5" y="1580" font-size="76" text-anchor="middle">5</text>
<text x="243" y="150.0" font-size="76" text-anchor="end">10</text>
<text x="243" y="119.0" font-size="53" text-anchor="start">7</text>
<text x="243" y="556.0" font-size="76" text-anchor="end">10</text>
<text x="243" y="525.0" font-size="53" text-anchor="start">4</text>
<text x="243" y="962.1" font-size="76" text-anchor="end">10</text>
<text x="243" y="931.1" font-size="53" text-anchor="start">1</text>
<text x="224" y="1368.1" font-size="76" text-anchor="end">10</text>
<text x="224" y="1337.1" font-size="53" text-anchor="start">-2</text>
<text y="1724" font-size="87"><tspan x="1123" textLength="300" lengthAdjust="spacing">Voltage</tspan><tspan x="1428"> </tspan><tspan x="1453">(</tspan><tspan x="1478"> </tspan><tspan x="1502">V</tspan><tspan x="1560"> </tspan><tspan x="1575">)</tspan></text>
<text transform="translate(100,1055) rotate(-90)" font-size="87" y="0"><tspan x="0" textLength="294" lengthAdjust="spacing">Current</tspan><tspan x="296"> </tspan><tspan x="326">(</tspan><tspan x="352"> </tspan><tspan x="372">nA</tspan><tspan x="482"> </tspan><tspan x="496">)</tspan></text>
</g>
<g font-family='"Liberation Sans", Arial, Helvetica, sans-serif' fill="#111" font-size="68" stroke-width="0.9">
<line x1="365" y1="958.0" x2="468" y2="958.0" stroke="#4a4a4a" stroke-width="11.5"/>
<text x="481" y="985.5" stroke="#111">230K</text>
<line x1="365" y1="1059.5" x2="468" y2="1059.5" stroke="#ee3a3e" stroke-width="11.5"/>
<text x="481" y="1087.0" stroke="#111">270K</text>
<line x1="365" y1="1161.0" x2="468" y2="1161.0" stroke="#1f6be0" stroke-width="11.5"/>
<text x="481" y="1188.5" stroke="#111">300K</text>
<line x1="365" y1="1262.5" x2="468" y2="1262.5" stroke="#2ea660" stroke-width="11.5"/>
<text x="481" y="1290.0" stroke="#111">333K</text>
<line x1="365" y1="1364.0" x2="468" y2="1364.0" stroke="#ae6fe2" stroke-width="11.5"/>
<text x="481" y="1391.5" stroke="#111">373K</text>
</g>
<line x1="565" y1="566.5" x2="565" y2="715.5" stroke="#1c1c1c" stroke-width="8.8"/>
<polygon points="565,496 582.5,568.5 547.5,568.5" fill="#000"/>
<line x1="2258.8" y1="569" x2="2258.8" y2="735" stroke="#1c1c1c" stroke-width="8.8"/>
<polygon points="2258.8,501 2276.3,571 2241.3,571" fill="#000"/>
<g fill="none" stroke-linejoin="round">
<polyline points="1024.6,111.0 1091.5,222.0 1159.4,324.0 1225.8,415.0 1291.0,487.5 1358.0,546.0 1424.4,588.0 1491.3,617.0 1578.0,642.0 1645.0,655.6 1710.0,665.7 1778.0,671.9 1843.8,677.7 1910.6,682.0 1979.3,683.8" stroke="#000" stroke-width="8.5"/>
<polyline points="1020.6,131.0 1087.0,237.5 1153.0,344.0 1221.0,447.4 1288.0,532.0 1355.0,602.5 1421.9,651.0 1488.7,685.6 1575.5,711.6 1642.0,722.8 1709.0,728.3 1775.0,729.0 1842.0,729.7 1908.8,727.0 1975.7,721.8" stroke="#ee3a40" stroke-width="8.5"/>
</g>
<rect x="1011.3" y="97.7" width="26.6" height="26.6" fill="#000"/>
<rect x="1078.2" y="208.7" width="26.6" height="26.6" fill="#000"/>
<rect x="1146.1" y="310.7" width="26.6" height="26.6" fill="#000"/>
<rect x="1212.5" y="401.7" width="26.6" height="26.6" fill="#000"/>
<rect x="1277.7" y="474.2" width="26.6" height="26.6" fill="#000"/>
<rect x="1344.7" y="532.7" width="26.6" height="26.6" fill="#000"/>
<rect x="1411.1" y="574.7" width="26.6" height="26.6" fill="#000"/>
<rect x="1478.0" y="603.7" width="26.6" height="26.6" fill="#000"/>
<rect x="1564.7" y="628.7" width="26.6" height="26.6" fill="#000"/>
<rect x="1631.7" y="642.3" width="26.6" height="26.6" fill="#000"/>
<rect x="1696.7" y="652.4" width="26.6" height="26.6" fill="#000"/>
<rect x="1764.7" y="658.6" width="26.6" height="26.6" fill="#000"/>
<rect x="1830.5" y="664.4" width="26.6" height="26.6" fill="#000"/>
<rect x="1897.3" y="668.7" width="26.6" height="26.6" fill="#000"/>
<rect x="1966.0" y="670.5" width="26.6" height="26.6" fill="#000"/>
<polygon points="1020.6,111.5 1035.6,131.0 1020.6,150.5 1005.6,131.0" fill="#ee3a40"/>
<polygon points="1087.0,218.0 1102.0,237.5 1087.0,257.0 1072.0,237.5" fill="#ee3a40"/>
<polygon points="1153.0,324.5 1168.0,344.0 1153.0,363.5 1138.0,344.0" fill="#ee3a40"/>
<polygon points="1221.0,427.9 1236.0,447.4 1221.0,466.9 1206.0,447.4" fill="#ee3a40"/>
<polygon points="1288.0,512.5 1303.0,532.0 1288.0,551.5 1273.0,532.0" fill="#ee3a40"/>
<polygon points="1355.0,583.0 1370.0,602.5 1355.0,622.0 1340.0,602.5" fill="#ee3a40"/>
<polygon points="1421.9,631.5 1436.9,651.0 1421.9,670.5 1406.9,651.0" fill="#ee3a40"/>
<polygon points="1488.7,666.1 1503.7,685.6 1488.7,705.1 1473.7,685.6" fill="#ee3a40"/>
<polygon points="1575.5,692.1 1590.5,711.6 1575.5,731.1 1560.5,711.6" fill="#ee3a40"/>
<polygon points="1642.0,703.3 1657.0,722.8 1642.0,742.3 1627.0,722.8" fill="#ee3a40"/>
<polygon points="1709.0,708.8 1724.0,728.3 1709.0,747.8 1694.0,728.3" fill="#ee3a40"/>
<polygon points="1775.0,709.5 1790.0,729.0 1775.0,748.5 1760.0,729.0" fill="#ee3a40"/>
<polygon points="1842.0,710.2 1857.0,729.7 1842.0,749.2 1827.0,729.7" fill="#ee3a40"/>
<polygon points="1908.8,707.5 1923.8,727.0 1908.8,746.5 1893.8,727.0" fill="#ee3a40"/>
<polygon points="1975.7,702.3 1990.7,721.8 1975.7,741.3 1960.7,721.8" fill="#ee3a40"/>
<g stroke="#111" fill="none" stroke-width="8.3">
<line x1="937.85" y1="62.5" x2="2022.3" y2="62.5"/>
<line x1="937.85" y1="786.0" x2="2022.3" y2="786.0"/>
<line x1="942.0" y1="62.5" x2="942.0" y2="786.0"/>
<line x1="1022.3" y1="62.5" x2="1022.3" y2="90.0"/>
<line x1="1022.3" y1="786.0" x2="1022.3" y2="813.5"/>
<line x1="1255.5" y1="62.5" x2="1255.5" y2="76.5"/>
<line x1="1255.5" y1="786.0" x2="1255.5" y2="800.0"/>
<line x1="1488.8" y1="62.5" x2="1488.8" y2="90.0"/>
<line x1="1488.8" y1="786.0" x2="1488.8" y2="813.5"/>
<line x1="1722.0" y1="62.5" x2="1722.0" y2="76.5"/>
<line x1="1722.0" y1="786.0" x2="1722.0" y2="800.0"/>
<line x1="1955.3" y1="62.5" x2="1955.3" y2="90.0"/>
<line x1="1955.3" y1="786.0" x2="1955.3" y2="813.5"/>
<line x1="942.0" y1="698.5" x2="914.0" y2="698.5"/>
<line x1="942.0" y1="613.7" x2="927.5" y2="613.7"/>
<line x1="942.0" y1="528.9" x2="914.0" y2="528.9"/>
<line x1="942.0" y1="444.1" x2="927.5" y2="444.1"/>
<line x1="942.0" y1="359.3" x2="914.0" y2="359.3"/>
<line x1="942.0" y1="274.5" x2="927.5" y2="274.5"/>
<line x1="942.0" y1="189.7" x2="914.0" y2="189.7"/>
<line x1="942.0" y1="104.9" x2="927.5" y2="104.9"/>
</g>
<g stroke="#ee3a40" fill="none" stroke-width="8.3">
<line x1="2022.3" y1="58.35" x2="2022.3" y2="791.0"/>
<line x1="2022.3" y1="785.6" x2="2036.8999999999999" y2="785.6"/>
<line x1="2022.3" y1="674.0" x2="2050.8" y2="674.0"/>
<line x1="2022.3" y1="562.4" x2="2036.8999999999999" y2="562.4"/>
<line x1="2022.3" y1="450.8" x2="2050.8" y2="450.8"/>
<line x1="2022.3" y1="339.2" x2="2036.8999999999999" y2="339.2"/>
<line x1="2022.3" y1="227.6" x2="2050.8" y2="227.6"/>
<line x1="2022.3" y1="116.0" x2="2036.8999999999999" y2="116.0"/>
</g>
<g font-family='"Liberation Sans", Arial, Helvetica, sans-serif' fill="#111" stroke="#111" stroke-width="0.9">
<text x="1023.5" y="877" font-size="63" text-anchor="middle">230</text>
<text x="1490.8" y="877" font-size="63" text-anchor="middle">300</text>
<text x="1958" y="877" font-size="63" text-anchor="middle">370</text>
<text x="898" y="714.5" font-size="63" text-anchor="end">2</text>
<text x="898" y="544.9" font-size="63" text-anchor="end">4</text>
<text x="898" y="375.3" font-size="63" text-anchor="end">6</text>
<text x="898" y="205.7" font-size="63" text-anchor="end">8</text>
<text y="997.5" font-size="82"><tspan x="1381" textLength="470" lengthAdjust="spacing">Temperature</tspan><tspan x="1856"> </tspan><tspan x="1883">(</tspan><tspan x="1908"> </tspan><tspan x="1924">K</tspan><tspan x="1984"> </tspan><tspan x="2000">)</tspan></text>
<text transform="translate(823,730.5) rotate(-90)" font-size="83">Ideality factor,n</text>
<text x="1580" y="199" font-size="62.5">Ideality factor</text>
<text x="1580" y="290.5" font-size="62.5">E<tspan font-size="42" dy="16">T</tspan></text>
</g>
<g font-family='"Liberation Sans", Arial, Helvetica, sans-serif' fill="#ee3a40" stroke="#ee3a40" stroke-width="0.4">
<text x="2071.5" y="690.5" font-size="63">80</text>
<text x="2071.5" y="467.3" font-size="63">120</text>
<text x="2071.5" y="244.1" font-size="63">160</text>
<text transform="translate(2273,468) rotate(-90)" font-size="87"><tspan x="0" y="0">E</tspan><tspan x="55" y="17" font-size="86">T</tspan><tspan x="110" y="0"> </tspan><tspan x="136" y="0">(</tspan><tspan x="162" y="0"> </tspan><tspan x="180" y="0" textLength="172" lengthAdjust="spacing">meV</tspan><tspan x="338" y="0"> </tspan><tspan x="342.5" y="0">)</tspan></text>
</g>
<line x1="1393" y1="174.5" x2="1566" y2="174.5" stroke="#111" stroke-width="8"/>
<rect x="1464.9" y="161" width="27" height="27" fill="#000"/>
<line x1="1393" y1="265" x2="1566" y2="265" stroke="#ee3a40" stroke-width="8"/>
<polygon points="1476.5,245 1491,265 1476.5,285 1462,265" fill="#ee3a40"/>
</svg>
</body></html>
